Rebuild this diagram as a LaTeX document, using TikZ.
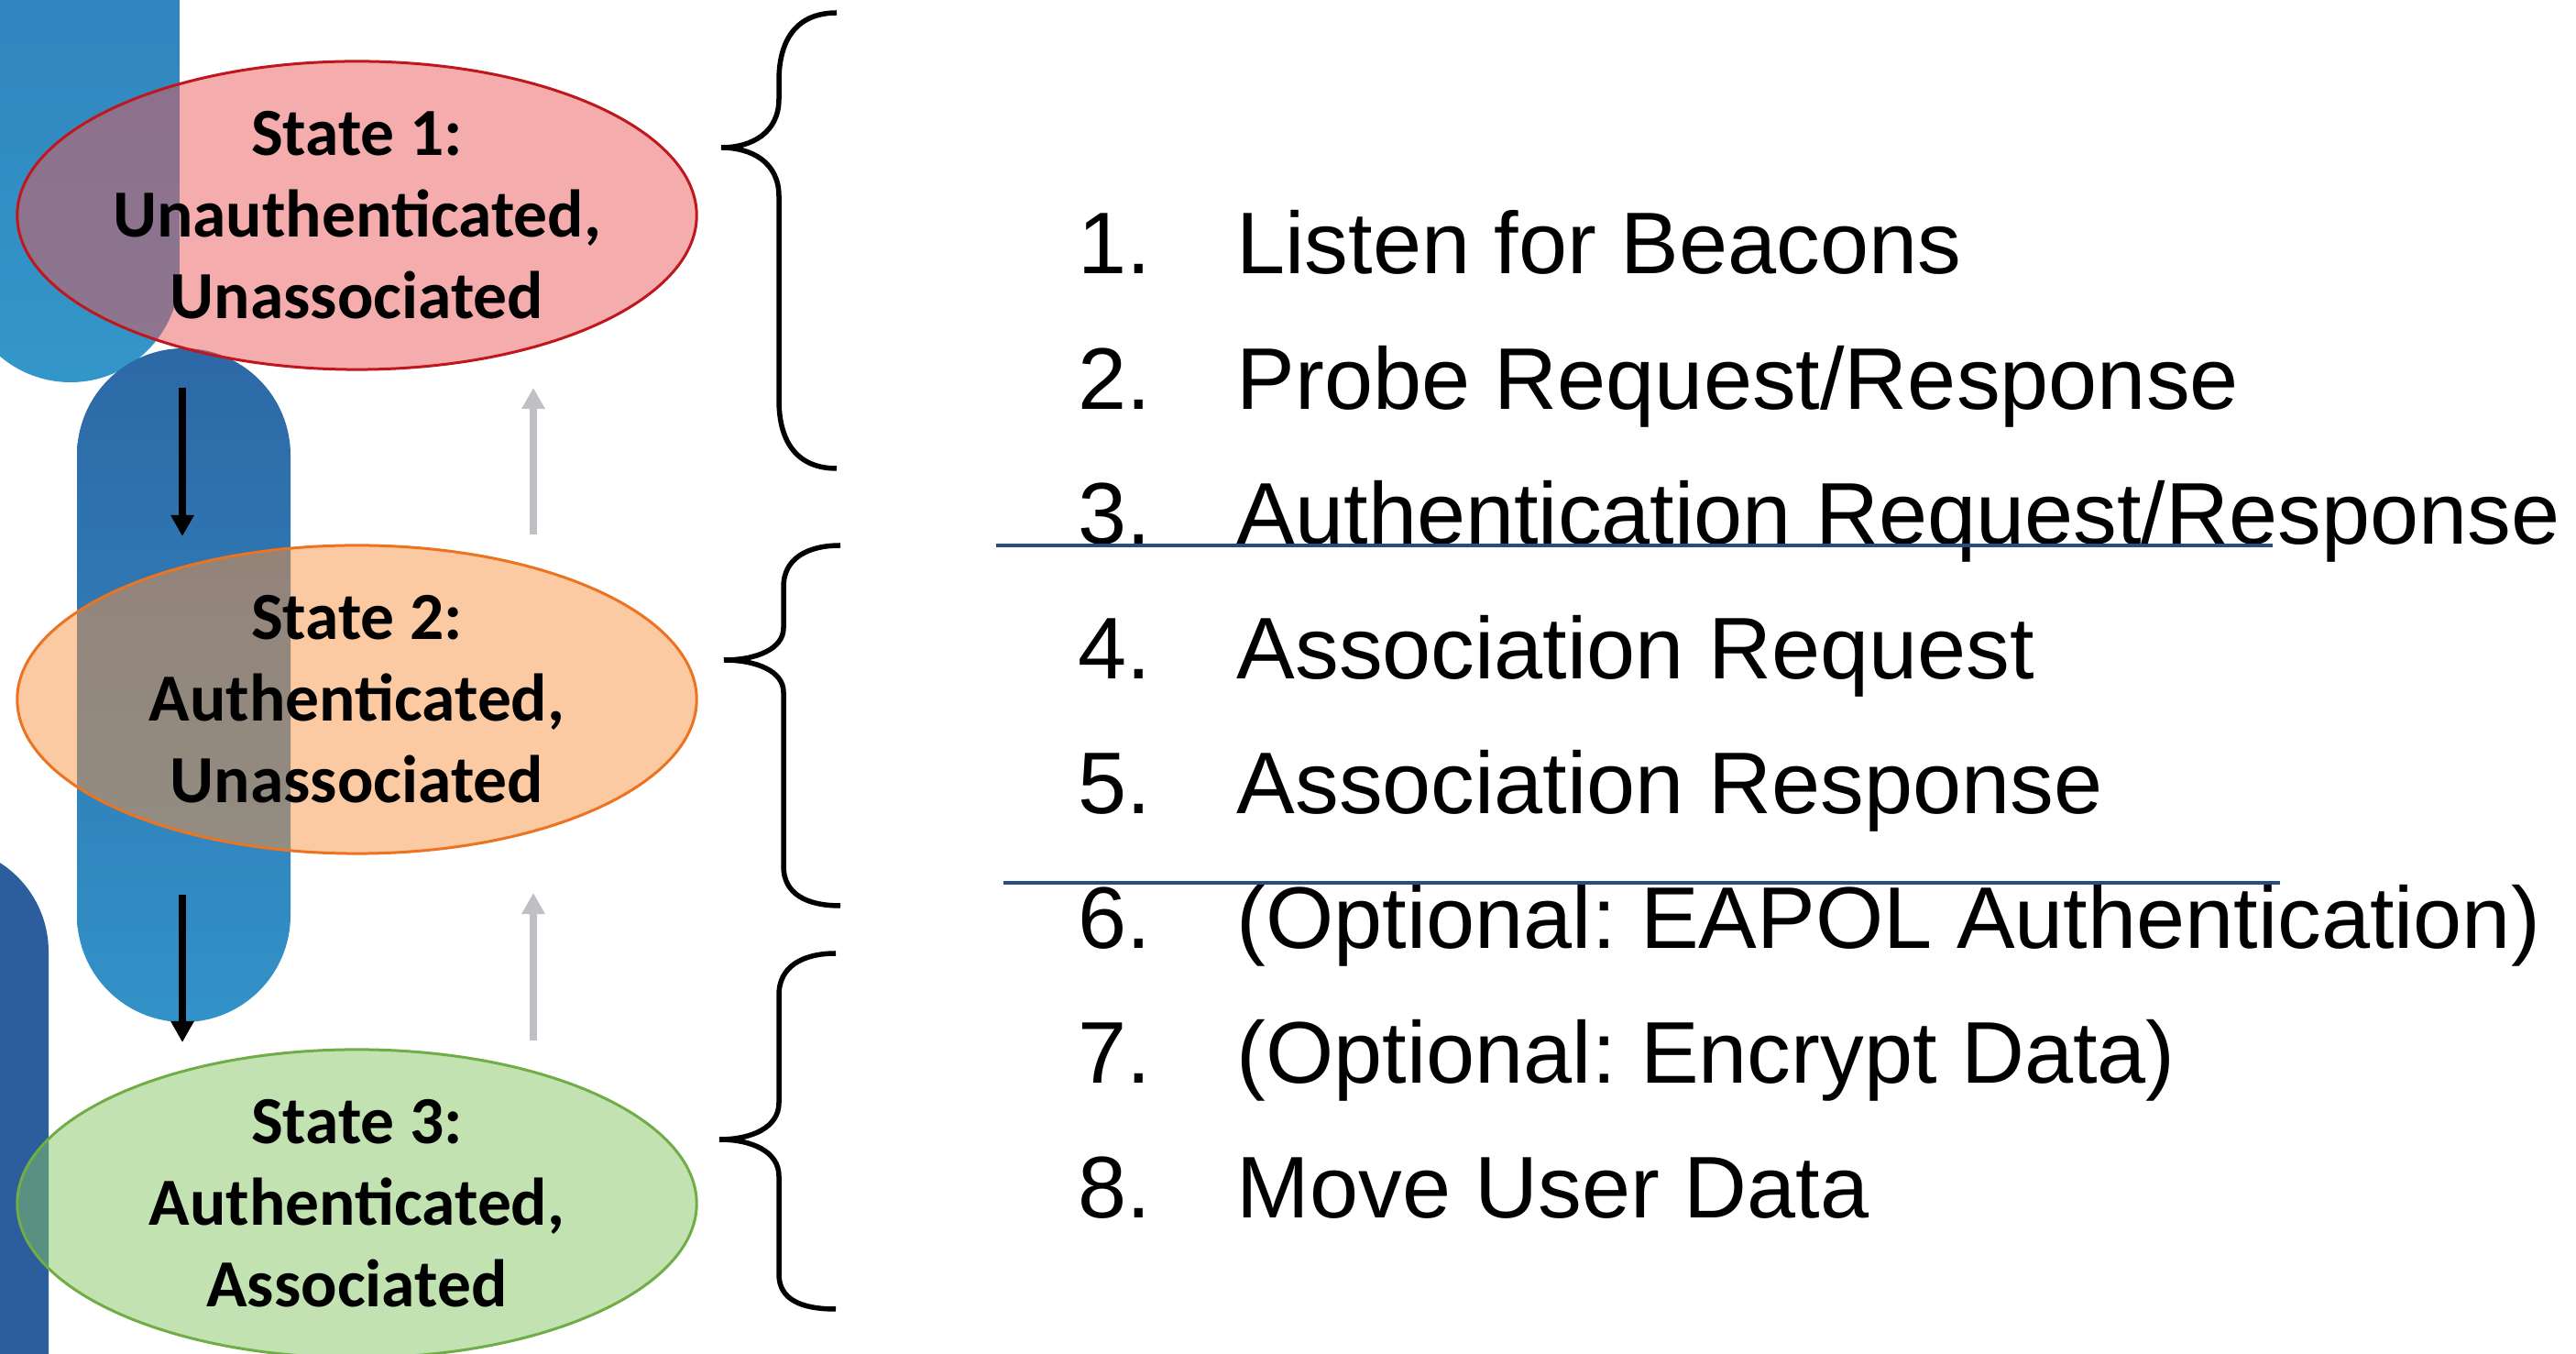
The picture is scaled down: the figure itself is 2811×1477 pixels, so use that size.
\documentclass[tikz,border=0pt]{standalone}
\usepackage{fontspec}
\setmainfont{Liberation Sans}
\newfontfamily\statefont{Carlito}
\usetikzlibrary{arrows.meta,shapes.geometric}

\definecolor{redFill}{HTML}{E95959}
\definecolor{redLine}{HTML}{C0171E}
\definecolor{orangeFill}{HTML}{F79345}
\definecolor{orangeLine}{HTML}{EC7320}
\definecolor{greenFill}{HTML}{85C565}
\definecolor{greenLine}{HTML}{70AD47}
\definecolor{barTopA}{HTML}{2E7AB6}
\definecolor{barTopB}{HTML}{3396C9}
\definecolor{barMidA}{HTML}{2D68A6}
\definecolor{barMidB}{HTML}{3292C8}
\definecolor{barLow}{HTML}{2C5E9E}
\definecolor{upGray}{HTML}{C0C0C4}
\definecolor{ruleBlue}{HTML}{264D80}

\tikzset{
  state/.style={ellipse, minimum width=7.41cm, minimum height=3.36cm,
    inner xsep=-0.07cm, inner ysep=0pt,
    fill opacity=0.5, text opacity=1, line width=0.03cm, align=center,
    font=\statefont\bfseries\fontsize{20.9}{25.3}\selectfont},
  downarrow/.style={line width=0.08cm, -{Triangle[width=0.24cm,length=0.23cm]}},
  uparrow/.style={upGray, line width=0.08cm, -{Triangle[width=0.24cm,length=0.23cm]}},
  bracket/.style={line width=0.055cm},
  itemtext/.style={anchor=base west, inner sep=0pt,
    font=\frenchspacing\fontsize{27.15}{32}\selectfont},
  sepline/.style={ruleBlue, line width=0.045cm}
}

\begin{document}
\begin{tikzpicture}[x=0.01cm, y=-0.01cm]
\useasboundingbox (0,0) rectangle (2811,1477);
\clip (0,0) rectangle (2811,1477);

% background bars
\shade[top color=barTopA, bottom color=barTopB, rounded corners=1.19cm]
  (-42,-300) rectangle (196,417);
\shade[top color=barMidA, bottom color=barMidB, rounded corners=1.165cm]
  (84,380) rectangle (317,1115);
\fill[barLow, rounded corners=1.15cm] (-177,923) rectangle (53,1800);

% states
\node[state, fill=redFill, draw=redLine] (s1) at (389.5,235)
  {State 1:\\Unauthenticated,\\Unassociated};
\node[state, fill=orangeFill, draw=orangeLine] (s2) at (389.5,763)
  {State 2:\\Authenticated,\\Unassociated};
\node[state, fill=greenFill, draw=greenLine] (s3) at (389.5,1313)
  {State 3:\\Authenticated,\\Associated};

% transitions
\coordinate (d1a) at (199,423);  \coordinate (d1b) at (199,585);
\coordinate (d2a) at (199,976);  \coordinate (d2b) at (199,1137);
\coordinate (u1a) at (582,583);  \coordinate (u1b) at (582,423);
\coordinate (u2a) at (582,1135); \coordinate (u2b) at (582,974);
\draw[downarrow] (d1a) -- (d1b);
\draw[downarrow] (d2a) -- (d2b);
\draw[uparrow] (u1a) -- (u1b);
\draw[uparrow] (u2a) -- (u2b);

% braces
\draw[bracket] (913,14) .. controls (872,14) and (850,40) .. (850,88) -- (850,108)
  .. controls (850,145) and (820,161) .. (787,161)
  .. controls (820,161) and (850,177) .. (850,214) -- (850,436)
  .. controls (850,485) and (872,511) .. (913,511);
\draw[bracket] (917,595) .. controls (880,595) and (855,610) .. (855,640) -- (855,685)
  .. controls (855,708) and (825,720) .. (790,720)
  .. controls (825,720) and (855,732) .. (855,755) -- (855,945)
  .. controls (855,975) and (880,988) .. (917,988);
\draw[bracket] (912,1040) .. controls (875,1040) and (850,1055) .. (850,1085) -- (850,1203)
  .. controls (850,1230) and (820,1243) .. (785,1243)
  .. controls (820,1243) and (850,1256) .. (850,1283) -- (850,1390)
  .. controls (850,1418) and (875,1428) .. (912,1428);

% steps
\foreach \k/\txt in {1/Listen for Beacons,
                     2/Probe Request\slash Response,
                     3/Authentication Request\slash Response,
                     4/Association Request,
                     5/Association Response,
                     6/(Optional: EAPOL Authentication),
                     7/(Optional: Encrypt Data),
                     8/Move User Data}{
  \node[itemtext] (n\k) at (1176,{299+147.1*(\k-1)}) {\k.};
  \node[itemtext] (t\k) at (1349,{299+147.1*(\k-1)}) {\txt};
}

% separators
\coordinate (r1a) at (1087,595); \coordinate (r1b) at (2480,595);
\coordinate (r2a) at (1095,963); \coordinate (r2b) at (2488,963);
\draw[sepline] (r1a) -- (r1b);
\draw[sepline] (r2a) -- (r2b);
\end{tikzpicture}
\end{document}
